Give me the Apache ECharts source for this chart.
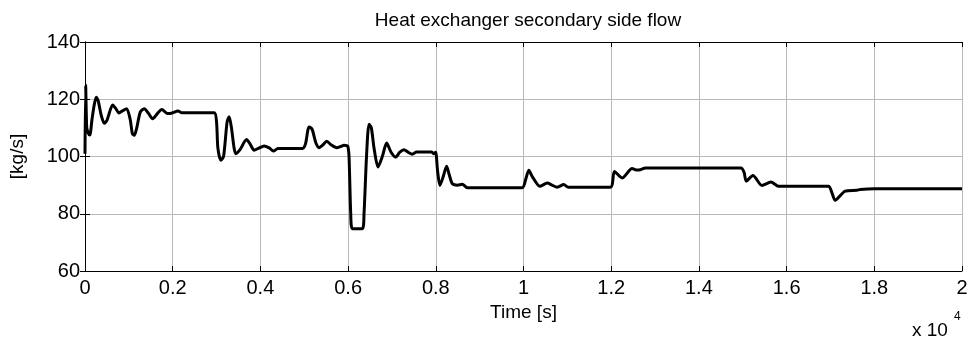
<!DOCTYPE html>
<html><head><meta charset="utf-8">
<script src="https://cdn.jsdelivr.net/npm/echarts@6/dist/echarts.min.js"></script>
<style>html,body{margin:0;padding:0;background:#fff}#c{width:972px;height:344px}</style>
</head><body><div id="c"></div>
<script>
const titleText = 'Heat exchanger secondary side flow';
const xLabel = 'Time [s]';
const yLabel = '[kg/s]';
const timeS = [0,15,40,80,110,160,210,257,300,370,440,500,631,700,775,860,950,1030,1080,1123,1180,1260,1351,1450,1542,1650,1754,1884,1990,2120,2200,2946,3000,3030,3098,3160,3240,3288,3340,3400,3440,3540,3683,3760,3857,3950,4085,4200,4298,4400,4959,5030,5080,5110,5180,5260,5340,5420,5513,5620,5741,5830,5907,5990,6021,6060,6098,6326,6363,6420,6477,6530,6591,6682,6780,6880,6980,7085,7180,7274,7370,7465,7560,7900,7950,7996,8040,8094,8170,8246,8300,8376,8490,8604,8718,9971,10050,10121,10200,10372,10541,10650,10769,10919,11020,11982,12073,12249,12477,12570,12666,12780,14959,15030,15080,15233,15438,15643,15816,16955,17030,17108,17336,17602,17677,18019,20000];
const flow = [101,125,110,108,107.5,113,118,120.7,119.5,114.4,111.6,112.6,118,116.8,115.2,116,116.7,113,108,107.4,110,115.5,116.7,115,113.2,115,116.4,115,115.2,115.9,115.3,115.3,112,103,98.7,100,112,113.9,110,103,101,102.5,105.9,104.5,102.2,102.8,103.7,103,101.9,102.8,102.8,104.5,109,110.3,109.5,105,103.1,104,105.3,104,103.1,103.5,103.9,103.6,100,80,74.8,74.8,80,100,111.3,110,103,96.3,100,104.7,101.5,99.8,101.5,102.4,101.5,100.8,101.6,101.6,101,101.5,95,89.9,93,96.6,94,90.5,90,90.3,89.1,89.1,92,95.2,93,89.6,90.7,90,89.3,90.2,89.3,89.3,94.8,92.5,95.8,95.3,95.4,96,96,94.5,91.4,93.4,89.9,91.1,89.6,89.6,87.5,84.7,87.9,88.2,88.5,88.7,88.7];
const xTicks = [0,0.2,0.4,0.6,0.8,1,1.2,1.4,1.6,1.8,2];
const yTicks = [60,80,100,120,140];
const xScale = 10000;

const font = 'Liberation Sans, Arial, sans-serif';
const chart = echarts.init(document.getElementById('c'), null, {renderer:'canvas'});
const data = timeS.map((t,i)=>[t, flow[i]]);
const axisLineStyle = {show:true, lineStyle:{color:'#000', width:1}};
chart.setOption({
  animation:false,
  backgroundColor:'#fff',
  title:{text:titleText, left:523, top:6, textAlign:'center',
    textStyle:{fontFamily:font, fontSize:19, fontWeight:'normal', color:'#000'}},
  graphic:[
    {type:'text', left:912, top:321, style:{text:'x 10', font:'19px '+font, fill:'#000'}},
    {type:'text', left:954, top:311, style:{text:'4', font:'12px '+font, fill:'#000'}}
  ],
  grid:{left:84, right:10, top:42, bottom:73, containLabel:false},
  xAxis:[{
    type:'value', min:xTicks[0]*xScale, max:xTicks[xTicks.length-1]*xScale, interval:(xTicks[1]-xTicks[0])*xScale,
    name:xLabel, nameLocation:'middle', nameGap:29,
    nameTextStyle:{fontFamily:font, fontSize:19, color:'#000'},
    axisLine:axisLineStyle,
    axisTick:{show:true, inside:true, length:5, lineStyle:{color:'#000'}},
    axisLabel:{fontFamily:font, fontSize:20, color:'#000', margin:7,
      formatter:v=>String(+(v/xScale).toFixed(1))},
    splitLine:{show:true, lineStyle:{color:'#b8b8b8', width:1}}
  },{
    type:'value', position:'top', min:xTicks[0]*xScale, max:xTicks[xTicks.length-1]*xScale, interval:(xTicks[1]-xTicks[0])*xScale,
    axisLine:axisLineStyle,
    axisTick:{show:true, inside:true, length:5, lineStyle:{color:'#000'}},
    axisLabel:{show:false}, splitLine:{show:false}
  }],
  yAxis:[{
    type:'value', min:yTicks[0], max:yTicks[yTicks.length-1], interval:yTicks[1]-yTicks[0],
    name:yLabel, nameLocation:'middle', nameGap:58, nameRotate:90,
    nameTextStyle:{fontFamily:font, fontSize:19, color:'#000'},
    axisLine:axisLineStyle,
    axisTick:{show:true, inside:true, length:5, lineStyle:{color:'#000'}},
    axisLabel:{fontFamily:font, fontSize:20, color:'#000', margin:5},
    splitLine:{show:true, lineStyle:{color:'#b8b8b8', width:1}}
  },{
    type:'value', position:'right', min:yTicks[0], max:yTicks[yTicks.length-1], interval:yTicks[1]-yTicks[0],
    axisLine:axisLineStyle,
    axisTick:{show:true, inside:true, length:5, lineStyle:{color:'#000'}},
    axisLabel:{show:false}, splitLine:{show:false}
  }],
  series:[{
    type:'line', data:data, xAxisIndex:0, yAxisIndex:0,
    showSymbol:false, smooth:0.25,
    lineStyle:{color:'#000', width:3}
  }]
});
</script></body></html>
